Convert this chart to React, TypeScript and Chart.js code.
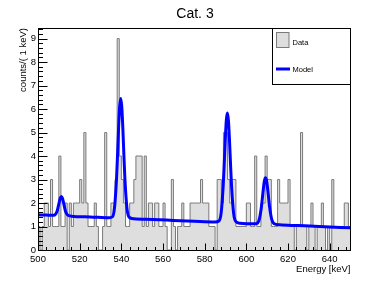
import React, { useEffect, useRef } from 'react';
import { Chart, registerables } from 'chart.js';

Chart.register(...registerables);

// ---- text ----
const TITLE = 'Cat. 3';
const X_TITLE = 'Energy [keV]';
const Y_TITLE = 'counts/( 1 keV)';
const LEGEND_DATA = 'Data';
const LEGEND_MODEL = 'Model';

// ---- axes ----
const X_MIN = 500;
const X_MAX = 650;
const BIN_WIDTH = 1;
const Y_MIN = 0;
const Y_MAX = 9.45;
const X_TICKS = [500, 520, 540, 560, 580, 600, 620, 640];
const Y_TICKS = [0, 1, 2, 3, 4, 5, 6, 7, 8, 9];
const X_MINOR_STEP = 4;
const Y_MINOR_STEP = 0.2;

// ---- histogram counts (1 keV bins) ----
const counts500to549 = [
  1, 0, 1, 2, 2, 1, 3, 1, 1, 1,
  4, 1, 1, 2, 0, 2, 1, 2, 2, 2,
  3, 2, 5, 2, 1, 1, 1, 2, 1, 0,
  0, 1, 5, 1, 1, 2, 2, 3, 9, 4,
  3, 2, 1, 1, 2, 2, 3, 4, 4, 4,
];
const counts550to599 = [
  1, 4, 1, 2, 2, 1, 2, 2, 1, 1,
  2, 1, 0, 0, 3, 1, 0, 1, 1, 2,
  1, 1, 1, 2, 2, 2, 2, 2, 3, 2,
  2, 2, 1, 1, 1, 0, 3, 3, 2, 5,
  5, 3, 2, 3, 3, 1, 1, 1, 1, 1,
];
const counts600to649 = [
  2, 2, 1, 1, 4, 1, 1, 2, 2, 4,
  3, 3, 1, 1, 1, 3, 2, 2, 2, 2,
  3, 1, 1, 0, 1, 1, 5, 1, 1, 0,
  1, 2, 1, 0, 1, 1, 2, 1, 0, 1,
  0, 3, 1, 1, 1, 1, 1, 2, 2, 1,
];

// ---- fitted model curve ----
const modelEnergy = [
  500, 504, 507, 508.2, 509.2, 510.2, 510.7, 511.2, 511.7, 512.2, 513.2, 514.2, 516,
  525, 534, 535.7, 536.7, 537.7, 538.2, 538.7, 539.2, 539.7, 540.2, 540.7, 541.2, 541.7,
  542.7, 543.7, 546, 555, 565, 575, 585, 586.9, 587.9, 588.9, 589.4, 589.9, 590.4, 590.9,
  591.4, 591.9, 592.4, 592.9, 593.9, 594.9, 597, 604, 605.2, 606.2, 607.2, 607.7, 608.2,
  608.7, 609.2, 609.7, 610.2, 610.7, 611.2, 612.2, 613.2, 616, 625, 635, 650,
];
const modelCounts = [
  1.5, 1.485, 1.474, 1.5, 1.66, 2.04, 2.21, 2.28, 2.21, 2.04, 1.65, 1.49, 1.44,
  1.41, 1.374, 1.41, 1.78, 3.05, 4.1, 5.23, 6.11, 6.45, 6.11, 5.23, 4.1, 3.05,
  1.78, 1.4, 1.33, 1.3, 1.26, 1.22, 1.19, 1.24, 1.57, 2.74, 3.69, 4.72, 5.53, 5.83,
  5.52, 4.71, 3.68, 2.73, 1.56, 1.22, 1.14, 1.115, 1.13, 1.3, 1.81, 2.21, 2.63,
  2.96, 3.08, 2.96, 2.63, 2.21, 1.81, 1.3, 1.13, 1.07, 1.04, 1.0, 0.945,
];

// ---- styles ----
const FONT = "'Liberation Sans', Arial, Helvetica, sans-serif";
const HIST_FILL = '#dedede';
const HIST_LINE = '#7a7a7a';
const MODEL_COLOR = '#0000ff';

const rootStylePlugin = {
  id: 'rootStyle',
  afterDraw(chart: any) {
    const { ctx, chartArea } = chart;
    const xs = chart.scales.x;
    const ys = chart.scales.y;
    const left = Math.floor(chartArea.left) + 0.5;
    const right = Math.floor(chartArea.right) + 0.5;
    const top = Math.floor(chartArea.top) + 0.5;
    const bottom = Math.floor(chartArea.bottom) + 0.5;

    ctx.save();
    // frame
    ctx.strokeStyle = '#000';
    ctx.lineWidth = 1;
    ctx.strokeRect(left, top, right - left, bottom - top);

    // x ticks (inward)
    ctx.beginPath();
    for (let v = X_MIN; v < X_MAX; v += X_MINOR_STEP) {
      const px = Math.round(xs.getPixelForValue(v)) + 0.5;
      const len = X_TICKS.includes(v) ? 7 : 3.5;
      ctx.moveTo(px, bottom);
      ctx.lineTo(px, bottom - len);
    }
    // y ticks (inward)
    const nMinor = Math.round((Y_MAX - Y_MIN) / Y_MINOR_STEP);
    for (let i = 0; i <= nMinor; i++) {
      const v = Y_MIN + i * Y_MINOR_STEP;
      if (v > Y_MAX) break;
      const py = Math.round(ys.getPixelForValue(v)) + 0.5;
      const len = i % 5 === 0 ? 9 : 4.5;
      ctx.moveTo(left, py);
      ctx.lineTo(left + len, py);
    }
    ctx.stroke();

    // title
    ctx.fillStyle = '#000';
    ctx.font = `14px ${FONT}`;
    ctx.textAlign = 'center';
    ctx.textBaseline = 'alphabetic';
    ctx.fillText(TITLE, 195, 17.5);

    // x title
    ctx.font = `9.5px ${FONT}`;
    ctx.textAlign = 'right';
    ctx.fillText(X_TITLE, right, 272);

    // y title
    ctx.save();
    ctx.translate(25.5, chartArea.top);
    ctx.rotate(-Math.PI / 2);
    ctx.textAlign = 'right';
    ctx.fillText(Y_TITLE, 0, 0);
    ctx.restore();

    // legend
    const lx = 272.5;
    const ly = top;
    const lw = right - lx;
    const lh = 56;
    ctx.fillStyle = '#fff';
    ctx.fillRect(lx, ly, lw, lh);
    ctx.strokeStyle = '#000';
    ctx.strokeRect(lx, ly, lw, lh);

    ctx.fillStyle = HIST_FILL;
    ctx.fillRect(276.5, 32.5, 12.5, 15);
    ctx.strokeStyle = HIST_LINE;
    ctx.strokeRect(276.5, 32.5, 12.5, 15);

    ctx.strokeStyle = MODEL_COLOR;
    ctx.lineWidth = 3;
    ctx.beginPath();
    ctx.moveTo(276, 69);
    ctx.lineTo(290, 69);
    ctx.stroke();

    ctx.fillStyle = '#000';
    ctx.font = `7.5px ${FONT}`;
    ctx.textAlign = 'left';
    ctx.fillText(LEGEND_DATA, 292.5, 45);
    ctx.fillText(LEGEND_MODEL, 292.5, 71.5);

    ctx.restore();
  },
};

export default function App() {
  const canvasRef = useRef<HTMLCanvasElement | null>(null);

  useEffect(() => {
    const counts = [...counts500to549, ...counts550to599, ...counts600to649];
    const histPoints = counts.map((c, i) => ({ x: X_MIN + i * BIN_WIDTH, y: c }));
    histPoints.push({ x: X_MAX, y: counts[counts.length - 1] });
    const modelPoints = modelEnergy.map((e, i) => ({ x: e, y: modelCounts[i] }));

    const chart = new Chart(canvasRef.current as HTMLCanvasElement, {
      type: 'line',
      data: {
        datasets: [
          {
            label: LEGEND_MODEL,
            data: modelPoints,
            borderColor: MODEL_COLOR,
            borderWidth: 3,
            pointRadius: 0,
            fill: false,
            cubicInterpolationMode: 'monotone',
          },
          {
            label: LEGEND_DATA,
            data: histPoints,
            borderColor: HIST_LINE,
            backgroundColor: HIST_FILL,
            borderWidth: 1,
            pointRadius: 0,
            stepped: true,
            fill: 'origin',
          },
        ],
      },
      options: {
        responsive: false,
        animation: false,
        events: [],
        layout: { padding: { left: 0, top: 28, right: 39.5, bottom: 0 } },
        plugins: {
          legend: { display: false },
          tooltip: { enabled: false },
          title: { display: false },
        },
        scales: {
          x: {
            type: 'linear',
            min: X_MIN,
            max: X_MAX,
            afterBuildTicks: (s: any) => {
              s.ticks = X_TICKS.map((v) => ({ value: v }));
            },
            afterFit: (s: any) => {
              s.height = 31;
            },
            grid: { display: false, drawTicks: false },
            border: { display: false },
            ticks: {
              font: { family: FONT, size: 9.5 },
              color: '#000',
              padding: 4,
              maxRotation: 0,
              autoSkip: false,
              callback: (v: any) => String(v),
            },
          },
          y: {
            type: 'linear',
            min: Y_MIN,
            max: Y_MAX,
            afterBuildTicks: (s: any) => {
              s.ticks = Y_TICKS.map((v) => ({ value: v }));
            },
            afterFit: (s: any) => {
              s.width = 38;
            },
            grid: { display: false, drawTicks: false },
            border: { display: false },
            ticks: {
              font: { family: FONT, size: 9.5 },
              color: '#000',
              padding: 2,
              autoSkip: false,
              callback: (v: any) => String(v),
            },
          },
        },
      },
      plugins: [rootStylePlugin],
    } as any);

    return () => chart.destroy();
  }, []);

  return (
    <div style={{ position: 'fixed', left: 0, top: 0, width: 390, height: 281, background: '#fff' }}>
      <canvas ref={canvasRef} width={390} height={281} style={{ display: 'block' }} />
    </div>
  );
}
